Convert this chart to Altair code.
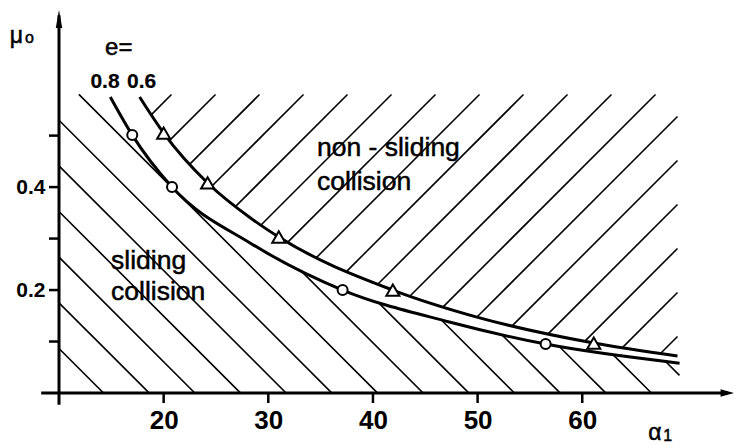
import altair as alt
import numpy as np
import pandas as pd

# Boundary curves mu_0(alpha_1) for the two restitution coefficients e
alpha_e08 = [14.9, 17.0, 20.8, 28.3, 37.1, 47.3, 56.5, 69.3]
mu_e08 = [0.575, 0.501, 0.400, 0.291, 0.200, 0.138, 0.095, 0.058]
alpha_e06 = [17.7, 20.0, 24.2, 28.3, 31.0, 41.9, 50.2, 61.1, 69.1]
mu_e06 = [0.575, 0.505, 0.408, 0.340, 0.303, 0.200, 0.146, 0.097, 0.072]

# Computed points marked on each curve
mark_alpha_e08 = [17.0, 20.8, 37.1, 56.5]
mark_mu_e08 = [0.501, 0.400, 0.200, 0.095]
mark_alpha_e06 = [20.0, 24.2, 31.0, 41.9, 61.1]
mark_mu_e06 = [0.505, 0.408, 0.303, 0.200, 0.097]

x_ticks = [20, 30, 40, 50, 60]
y_ticks = [0.1, 0.2, 0.3, 0.4, 0.5]

# extent of the hatched regions
HATCH_TOP = 0.58
HATCH_RIGHT = 69.3

# ---- layout ----
W, H = 675, 383
X_DOM = [10, 74.5]
Y_DOM = [0, 0.744]
SX = W / (X_DOM[1] - X_DOM[0])   # px per unit alpha
SY = H / (Y_DOM[1] - Y_DOM[0])   # px per unit mu
TICK = 10                        # tick length, px

SANS = "Liberation Sans, Arial, DejaVu Sans"


def monotone(xs, ys, xq):
    """Monotone cubic (same scheme as the 'monotone' line interpolation)."""
    xs = np.asarray(xs, float)
    ys = np.asarray(ys, float)
    n = len(xs)
    h = np.diff(xs)
    s = np.diff(ys) / h
    t = np.zeros(n)
    for i in range(1, n - 1):
        p = (s[i - 1] * h[i] + s[i] * h[i - 1]) / (h[i - 1] + h[i])
        t[i] = (np.sign(s[i - 1]) + np.sign(s[i])) * min(abs(s[i - 1]), abs(s[i]), 0.5 * abs(p))
    t[0] = (3 * s[0] - t[1]) / 2
    t[-1] = (3 * s[-1] - t[-2]) / 2
    xq = np.asarray(xq, float)
    out = np.full(xq.shape, np.nan)
    for i in range(n - 1):
        sel = (xq >= xs[i]) & (xq <= xs[i + 1])
        u = (xq[sel] - xs[i]) / h[i]
        h00 = 2 * u**3 - 3 * u**2 + 1
        h10 = u**3 - 2 * u**2 + u
        h01 = -2 * u**3 + 3 * u**2
        h11 = u**3 - u**2
        out[sel] = h00 * ys[i] + h10 * h[i] * t[i] + h01 * ys[i + 1] + h11 * h[i] * t[i + 1]
    return out


def hatch(direction, offsets, lower, upper, u_lo, u_hi):
    """45-degree hatch segments (in screen px) clipped between lower(u) and upper(u)."""
    u = np.arange(u_lo, u_hi + 1e-9, 0.1)
    lo, hi = lower(u), upper(u)
    rows = []
    for c in offsets:
        v = c - u if direction < 0 else c + u
        inside = (v >= lo) & (v <= hi)
        idx = np.flatnonzero(inside)
        if idx.size == 0:
            continue
        br = np.flatnonzero(np.diff(idx) > 1)
        starts = np.r_[idx[0], idx[br + 1]]
        ends = np.r_[idx[br], idx[-1]]
        for s_, e_ in zip(starts, ends):
            if e_ - s_ < 10:
                continue
            rows.append(dict(a=X_DOM[0] + u[s_] / SX, m=v[s_] / SY,
                             a2=X_DOM[0] + u[e_] / SX, m2=v[e_] / SY))
    return rows


def to_u(a):
    return (np.asarray(a, float) - X_DOM[0]) * SX


cap_v = HATCH_TOP * SY
u_right = to_u(HATCH_RIGHT)
u08 = to_u(alpha_e08)
u06 = to_u(alpha_e06)
v08 = np.asarray(mu_e08) * SY
v06 = np.asarray(mu_e06) * SY


def sliding_top(u):
    c = monotone(u08, v08, u)
    return np.where(np.isnan(c), cap_v, np.minimum(c, cap_v))


def nonsliding_bottom(u):
    c = monotone(u06, v06, u)
    return np.where(np.isnan(c), np.inf, c)


back_offsets = [44.5 + 45.66 * k for k in range(0, 16)]
fwd_offsets = [186 - 44 * k for k in range(0, 20)]

hatch_rows = hatch(-1, back_offsets, lambda u: np.zeros_like(u), sliding_top, 0, u_right)
hatch_rows += hatch(+1, fwd_offsets, nonsliding_bottom, lambda u: np.full_like(u, cap_v), u06[0], u_right)
hatch_df = pd.DataFrame(hatch_rows)

curve_df = pd.concat([
    pd.DataFrame({"a": alpha_e08, "m": mu_e08, "e": "0.8"}),
    pd.DataFrame({"a": alpha_e06, "m": mu_e06, "e": "0.6"}),
])
pts08 = pd.DataFrame({"a": mark_alpha_e08, "m": mark_mu_e08})
pts06 = pd.DataFrame({"a": mark_alpha_e06, "m": mark_mu_e06})

# axis lines (extended a little past the origin) and outward ticks
axis_lines = pd.DataFrame({
    "a": [8.3, X_DOM[0]], "a2": [X_DOM[1] - 0.6, X_DOM[0]],
    "m": [0.0, -0.023], "m2": [0.0, Y_DOM[1] - 0.01],
})
tick_df = pd.concat([
    pd.DataFrame({"a": x_ticks, "a2": x_ticks, "m": 0.0, "m2": -TICK / SY}),
    pd.DataFrame({"a": X_DOM[0], "a2": X_DOM[0] - TICK / SX, "m": y_ticks, "m2": y_ticks}),
])
arrow_up = pd.DataFrame({"a": [X_DOM[0]], "m": [Y_DOM[1]]})
arrow_right = pd.DataFrame({"a": [X_DOM[1]], "m": [0.0]})

region_text = pd.DataFrame({
    "t": ["sliding", "collision", "non - sliding", "collision"],
    "a": [14.97, 14.97, 34.65, 34.65],
    "m": [0.241, 0.181, 0.460, 0.394],
})
e_text = pd.DataFrame({"t": ["e="], "a": [14.4], "m": [0.657]})
e_vals = pd.DataFrame({"t": ["0.8", "0.6"], "a": [13.0, 16.5], "m": [0.592, 0.592]})
big_symbols = pd.DataFrame({"t": ["μ", "α"], "a": [5.3, 66.3], "m": [0.680, -0.091]})
small_symbols = pd.DataFrame({"t": ["o", "1"], "a": [6.75, 67.75], "m": [0.680, -0.094]})

x_axis = alt.Axis(values=x_ticks, domain=False, grid=False, ticks=False,
                  labelFont=SANS, labelFontSize=26, labelFontWeight="bold",
                  labelColor="black", labelPadding=14, labelFlush=False, labelOverlap=False,
                  format="d", title=None)
y_axis = alt.Axis(values=y_ticks, domain=False, grid=False, ticks=False,
                  labelFont=SANS, labelFontSize=21, labelFontWeight="bold",
                  labelColor="black", labelPadding=14, labelOverlap=False, title=None,
                  labelExpr="(abs(datum.value - 0.2) < 1e-6 || abs(datum.value - 0.4) < 1e-6) ? format(datum.value, '.1f') : ''")

X = alt.X("a:Q", scale=alt.Scale(domain=X_DOM, nice=False, zero=False), axis=x_axis)
Y = alt.Y("m:Q", scale=alt.Scale(domain=Y_DOM, nice=False, zero=False), axis=y_axis)

hatch_layer = alt.Chart(hatch_df).mark_rule(color="black", strokeWidth=1.6).encode(
    x=X, y=Y, x2="a2:Q", y2="m2:Q")

curves = alt.Chart(curve_df).mark_line(color="black", strokeWidth=3, interpolate="monotone").encode(
    x=X, y=Y, detail="e:N")

circles = alt.Chart(pts08).mark_point(shape="circle", size=100, filled=True, fill="white",
                                      stroke="black", strokeWidth=2, opacity=1).encode(x=X, y=Y)
triangles = alt.Chart(pts06).mark_point(shape="triangle-up", size=170, filled=True, fill="white",
                                        stroke="black", strokeWidth=2, opacity=1).encode(x=X, y=Y)

axes = alt.Chart(axis_lines).mark_rule(color="black", strokeWidth=3, strokeCap="butt").encode(
    x=X, y=Y, x2="a2:Q", y2="m2:Q")
ticks = alt.Chart(tick_df).mark_rule(color="black", strokeWidth=2.5, strokeCap="butt").encode(
    x=X, y=Y, x2="a2:Q", y2="m2:Q")
head_up = alt.Chart(arrow_up).mark_point(shape="M0,0L0.36,2L-0.36,2Z", size=324, filled=True,
                                         color="black", opacity=1).encode(x=X, y=Y)
head_right = alt.Chart(arrow_right).mark_point(shape="M0,0L-2,-0.55L-2,0.55Z", size=180, filled=True,
                                               color="black", opacity=1).encode(x=X, y=Y)

text_style = dict(align="left", baseline="alphabetic", font=SANS, color="black", stroke="black")

labels = alt.Chart(region_text).mark_text(fontSize=26.5, strokeWidth=0.5, **text_style).encode(
    x=X, y=Y, text="t:N")
e_label = alt.Chart(e_text).mark_text(fontSize=24, strokeWidth=0.5, **text_style).encode(
    x=X, y=Y, text="t:N")
e_numbers = alt.Chart(e_vals).mark_text(fontSize=21, fontWeight="bold", strokeWidth=0.2,
                                        **text_style).encode(x=X, y=Y, text="t:N")
symbols = alt.Chart(big_symbols).mark_text(fontSize=23, strokeWidth=0.5, **text_style).encode(
    x=X, y=Y, text="t:N")
subscripts = alt.Chart(small_symbols).mark_text(fontSize=16, strokeWidth=0.5, **text_style).encode(
    x=X, y=Y, text="t:N")

chart = alt.layer(
    hatch_layer, curves, circles, triangles, axes, ticks, head_up, head_right,
    labels, e_label, e_numbers, symbols, subscripts,
).properties(
    width=W, height=H,
    padding={"left": 59, "top": 10, "right": 1, "bottom": 52},
    autosize=alt.AutoSizeParams(type="none"),
    background="white",
).configure_view(stroke=None)

chart.save("out.html", embed_options={"renderer": "svg", "actions": False})
